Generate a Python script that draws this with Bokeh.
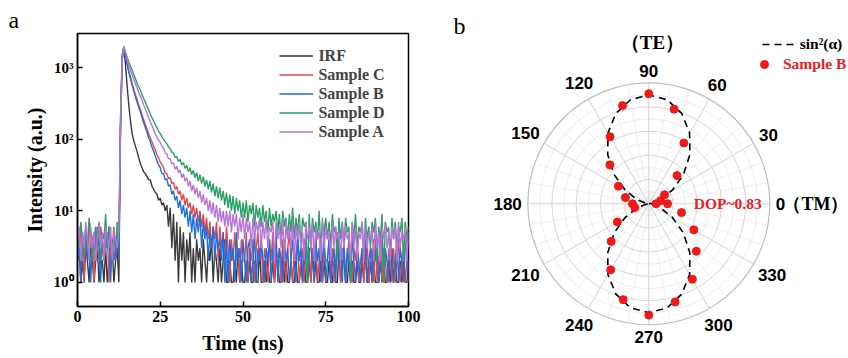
import numpy as np
from bokeh.plotting import figure
from bokeh.layouts import row, column
from bokeh.models import (Legend, LegendItem, FixedTicker, CustomJSTickFormatter,
                          Label, Range1d)
from bokeh.core.properties import value
from bokeh.embed import file_html
from bokeh.resources import INLINE

# ---------------- Panel a : TRPL decay data (counts, 0.5 ns channels) ----------------
t_step_ns = 0.5

irf_counts = [
    2,3,1,2,1,3,2,1,4,2,1,2,3,1,2,2,1,3,1,2,2,3,1,2,3,1,
    200,1500,1950,1100,550,300,180,120,95,80,
    67,55,45,40,35,33,30,27,27,22,
    20,18,17,14,15,12,13,10,12,6,
    11,3,9,2,7,1,6,2,5,1,
    4,2,5,1,3,1,4,2,3,1,
    4,2,1,3,2,4,1,3,2,1,
    3,1,2,4,1,
    1,2,1,1,2,1,3,1,2,1,
    1,2,1,2,1,1,2,1,1,3,
    1,1,2,1,2,1,1,2,1,2,
    2,1,1,3,1,2,1,1,2,1,
    1,2,1,1,2,1,2,1,1,2,
    1,3,1,2,1,1,2,1,2,1,
    1,2,1,1,2,1,1,3,1,2,
    2,1,1,2,1,2,1,1,2,1,
    1,2,1,3,1,1,2,1,2,1,
    1,1,2,1,2,1,1,2,1,3,
    1,2,1,1,2,1,2,1,1,2,
]

sample_c_counts = [
    4,2,6,3,1,5,2,7,3,4,1,5,3,2,6,4,2,3,5,1,4,3,6,2,5,3,
    150,1300,1950,1500,1150,900,740,600,500,420,
    360,300,260,220,185,160,140,120,105,92,
    80,70,60,55,48,44,40,34,33,28,
    29,24,25,20,22,17,19,14,17,12,
    15,11,13,9,12,8,11,7,10,6,
    9,5,8,4,7,3,6,4,7,2,
    6,3,5,2,6,
    3,1,4,2,5,2,3,1,4,2,
    2,5,1,3,2,4,1,3,5,2,
    4,1,3,2,1,4,2,5,1,3,
    2,3,1,4,2,1,3,5,2,1,
    3,2,4,1,2,3,1,4,2,3,
    1,3,2,5,1,2,4,1,3,2,
    2,4,1,3,1,2,5,2,1,3,
    3,1,2,4,2,1,3,2,4,1,
    2,3,1,2,4,1,2,3,1,4,
    1,2,4,1,3,2,1,3,2,1,
    3,1,2,4,1,2,3,1,2,4,
]

sample_b_counts = [
    2,4,1,5,3,6,2,3,1,4,5,2,6,3,1,4,2,5,3,6,1,4,2,3,5,2,
    140,1250,1950,1450,1100,860,700,570,470,390,
    330,280,240,200,170,145,125,105,92,78,
    68,58,50,44,40,33,33,27,28,22,
    23,17,19,14,16,11,14,9,12,8,
    11,6,10,5,9,4,8,5,9,3,
    7,4,6,2,5,3,6,2,5,3,
    4,2,5,1,4,
    1,4,2,3,1,5,2,3,1,4,
    2,1,3,4,1,2,5,1,3,2,
    4,2,1,3,2,4,1,3,2,5,
    1,3,2,1,4,2,3,1,2,4,
    2,1,5,2,3,1,4,2,1,3,
    3,2,1,4,2,3,1,2,5,1,
    2,4,1,2,3,1,4,2,3,1,
    4,1,3,2,1,5,2,1,3,2,
    1,3,2,4,1,2,3,1,4,2,
    3,1,2,5,1,3,2,1,4,2,
    1,2,4,1,3,2,1,3,5,1,
]

sample_d_counts = [
    5,3,7,4,2,6,3,8,5,2,4,6,3,7,2,5,4,9,3,6,4,2,5,3,7,4,
    160,1350,1950,1650,1400,1200,1050,920,800,700,
    610,540,480,420,370,330,290,255,225,200,
    180,160,145,130,120,108,100,92,86,78,
    74,66,64,56,57,49,52,44,47,39,
    43,35,40,32,37,29,34,26,32,24,
    30,22,27,20,26,18,24,16,22,15,
    21,14,19,12,18,
    11,17,10,16,9,15,10,14,8,13,
    8,14,7,12,9,13,6,12,8,11,
    6,12,7,10,5,11,6,9,7,10,
    5,9,4,10,6,8,4,9,5,11,
    4,8,5,9,3,8,6,7,1,9,
    3,8,5,7,4,10,3,7,5,8,
    4,7,3,9,5,6,2,8,4,7,
    3,8,5,6,1,7,4,9,3,6,
    5,7,2,8,4,6,3,7,5,8,
    2,6,4,9,1,7,5,6,2,8,
    4,7,3,6,5,8,2,7,4,6,
]

sample_a_counts = [
    4,6,2,5,3,7,4,2,6,3,5,2,4,7,3,5,2,6,4,3,6,2,5,4,3,6,
    150,1300,1950,1600,1300,1080,920,800,690,600,
    520,455,400,350,300,265,230,200,175,155,
    135,120,105,97,90,80,74,64,62,53,
    54,45,47,38,42,34,37,29,33,26,
    29,22,26,19,23,17,21,15,19,13,
    17,12,15,10,14,9,13,8,12,7,
    11,7,10,6,10,
    6,10,5,9,6,9,4,8,5,9,
    4,8,5,7,3,8,4,7,5,8,
    3,7,4,8,3,6,5,7,2,7,
    4,6,3,8,2,7,4,6,3,7,
    2,6,4,7,3,5,2,7,4,6,
    3,7,2,6,4,5,2,8,3,6,
    4,5,2,7,3,6,4,5,2,7,
    3,6,4,5,2,7,3,6,2,5,
    4,7,2,6,3,5,4,6,2,7,
    3,5,2,6,4,7,3,5,2,6,
    4,6,2,7,3,5,4,6,2,5,
]

series_names = ["IRF", "Sample C", "Sample B", "Sample D", "Sample A"]
series_counts = [irf_counts, sample_c_counts, sample_b_counts, sample_d_counts, sample_a_counts]
series_colors = ["#3a3a3a", "#e8474a", "#1f6fe0", "#2aa063", "#b875d9"]

x_ticks = [0, 25, 50, 75, 100]
y_ticks = [1, 10, 100, 1000]
y_tick_labels = ["10\u2070", "10\u00b9", "10\u00b2", "10\u00b3"]

# ---------------- Panel b : polarization data ----------------
pol_angle_deg = [0, 15, 30, 45, 60, 75, 90, 105, 120, 135, 150, 165, 180,
                 195, 210, 225, 240, 255, 270, 285, 300, 315, 330, 345, 360]
sample_b_r = [0.155, 0.10, 0.15, 0.33, 0.58, 0.81, 0.91, 0.84, 0.64, 0.455, 0.29, 0.20, 0.135,
              0.12, 0.30, 0.44, 0.63, 0.82, 0.92, 0.84, 0.72, 0.555, 0.43, 0.28, 0.06]
fit_angle_deg = [0, 10, 20, 30, 40, 50, 60, 70, 80, 90, 100, 110, 120, 130, 140, 150, 160, 170, 180,
                 190, 200, 210, 220, 230, 240, 250, 260, 270, 280, 290, 300, 310, 320, 330, 340, 350, 360]
fit_r = [0.0, 0.027, 0.105, 0.225, 0.372, 0.528, 0.675, 0.795, 0.873, 0.9,
         0.873, 0.795, 0.675, 0.528, 0.372, 0.225, 0.105, 0.027, 0.0,
         0.027, 0.105, 0.225, 0.372, 0.528, 0.675, 0.795, 0.873, 0.9,
         0.873, 0.795, 0.675, 0.528, 0.372, 0.225, 0.105, 0.027, 0.0]
angle_tick_deg = [0, 30, 60, 90, 120, 150, 180, 210, 240, 270, 300, 330]
ring_major = [0.2, 0.4, 0.6, 0.8]
ring_minor = [0.1, 0.3, 0.5, 0.7, 0.9]
ring_outer = 1.0
spoke_minor_deg = [a for a in range(0, 360, 10) if a % 30 != 0]

SERIF = "Liberation Serif"
SANS = "Liberation Sans"
H = 358

# ================= Panel a =================
p1 = figure(width=428, height=H, y_axis_type="log",
            x_range=Range1d(0, 100), y_range=Range1d(0.46, 3000),
            output_backend="svg", toolbar_location=None,
            min_border_left=77, min_border_right=20, min_border_top=33, min_border_bottom=52)
p1.xgrid.visible = False
p1.ygrid.visible = False
p1.outline_line_color = "black"
p1.outline_line_width = 1.5
p1.outline_line_alpha = 1.0

renderers = []
for name, counts, col in zip(series_names, series_counts, series_colors):
    t = t_step_ns * np.arange(len(counts))
    r = p1.line(t, counts, line_color=col, line_width=1.4)
    renderers.append(r)

p1.xaxis.ticker = FixedTicker(ticks=x_ticks)
p1.yaxis.ticker = FixedTicker(ticks=y_ticks)
lab_map = "{" + ",".join(f"{v}:'{s}'" for v, s in zip(y_ticks, y_tick_labels)) + "}"
p1.yaxis.formatter = CustomJSTickFormatter(code=f"const m={lab_map}; return m[Math.round(tick)] || '';")

for ax in (p1.xaxis[0], p1.yaxis[0]):
    ax.major_tick_in = 5
    ax.major_tick_out = 0
    ax.minor_tick_line_color = None
    ax.axis_line_width = 1.5
    ax.major_tick_line_width = 1.5
    ax.axis_line_color = "black"
    ax.major_tick_line_color = "black"
    ax.major_label_text_font = SERIF
    ax.major_label_text_font_style = "bold"
    ax.major_label_text_color = "black"
    ax.axis_label_text_font = SERIF
    ax.axis_label_text_font_style = "bold"
    ax.axis_label_text_font_size = "20px"
    ax.axis_label_text_color = "black"
p1.xaxis.major_label_text_font_size = "16px"
p1.yaxis.major_label_text_font_size = "15px"
p1.xaxis.major_label_standoff = 4
p1.yaxis.major_label_standoff = 4
p1.xaxis.axis_label = "Time (ns)"
p1.yaxis.axis_label = "Intensity (a.u.)"
p1.xaxis.axis_label_standoff = 7
p1.yaxis.axis_label_standoff = 5

leg1 = Legend(items=[LegendItem(label=n, renderers=[r]) for n, r in zip(series_names, renderers)],
              location=(202.4, 165.2))
leg1.border_line_color = None
leg1.background_fill_alpha = 0
leg1.padding = 4
leg1.margin = 0
leg1.spacing = 1
leg1.label_height = 17
leg1.glyph_height = 17
leg1.glyph_width = 34
leg1.label_standoff = 5
leg1.label_text_font = SERIF
leg1.label_text_font_style = "bold"
leg1.label_text_font_size = "16px"
p1.add_layout(leg1)

p1.title.text = "a"
p1.title.align = "left"
p1.title.offset = -69
p1.title.standoff = 2
p1.title.text_font = SERIF
p1.title.text_font_style = "normal"
p1.title.text_font_size = "24px"
p1.title.text_color = "black"

# ================= Panel b =================
R_PX = 121.0
W2 = 420
CX, CY = 220.3, 203.3   # polar origin inside panel b (pixels from its top-left)
p2 = figure(width=W2, height=H, title=None,
            x_range=Range1d(-CX / R_PX, (W2 - CX) / R_PX),
            y_range=Range1d(-(H - CY) / R_PX, CY / R_PX),
            x_axis_type=None, y_axis_type=None,
            output_backend="svg", toolbar_location=None, min_border=0)
p2.grid.visible = False
p2.outline_line_color = None

def spoke(deg_list, color, width):
    th = np.deg2rad(np.array(deg_list, dtype=float))
    p2.segment(x0=np.zeros_like(th), y0=np.zeros_like(th),
               x1=ring_outer * np.cos(th), y1=ring_outer * np.sin(th),
               line_color=color, line_width=width)

spoke(spoke_minor_deg, "#ececec", 0.8)
p2.circle(x=[0] * len(ring_minor), y=[0] * len(ring_minor), radius=ring_minor,
          fill_color=None, line_color="#e8e8e8", line_width=0.8)
spoke(angle_tick_deg, "#d2d2d2", 1.0)
p2.circle(x=[0] * len(ring_major), y=[0] * len(ring_major), radius=ring_major,
          fill_color=None, line_color="#d6d6d6", line_width=1.0)
p2.circle(x=[0], y=[0], radius=[ring_outer], fill_color=None, line_color="#bdbdbd", line_width=1.2)

th_fit = np.deg2rad(np.array(fit_angle_deg, dtype=float))
fr = np.array(fit_r)
r_fit = p2.line(fr * np.cos(th_fit), fr * np.sin(th_fit), line_color="black",
                line_width=1.6, line_dash="7 5")
th_pts = np.deg2rad(np.array(pol_angle_deg, dtype=float))
br = np.array(sample_b_r)
r_pts = p2.scatter(br * np.cos(th_pts), br * np.sin(th_pts), size=8,
                   fill_color="#f01818", line_color="#f01818")

lab_fs = 17
lab_x, lab_y, lab_t = [], [], []
for a in angle_tick_deg:
    s = str(a)
    th = np.deg2rad(a)
    hw = 0.278 * lab_fs * len(s)
    hh = 0.36 * lab_fs
    rr = ring_outer + (6 + hw * abs(np.cos(th)) + hh * abs(np.sin(th))) / R_PX
    lab_x.append(rr * np.cos(th))
    lab_y.append(rr * np.sin(th))
    lab_t.append(s)
p2.text(x=lab_x, y=lab_y, text=lab_t, text_font=value(SANS), text_font_style="bold",
        text_font_size=f"{lab_fs}px", text_align="center", text_baseline="middle",
        text_color="black")

p2.add_layout(Label(x=0.03, y=1.329, text="（TE）", text_font=SERIF, text_font_style="bold",
                    text_font_size="19px", text_align="center", text_baseline="middle",
                    text_color="black"))
p2.add_layout(Label(x=1.113, y=0.0, text="（TM）", text_font=SERIF, text_font_style="bold",
                    text_font_size="18px", text_align="left", text_baseline="middle",
                    text_color="black"))
p2.add_layout(Label(x=0.372, y=0.0, text="DOP~0.83", text_font=SERIF, text_font_style="bold",
                    text_font_size="15.5px", text_align="left", text_baseline="middle",
                    text_color="#ee1c25"))

leg2 = Legend(items=[LegendItem(label="sin\u00b2(\u03b1)", renderers=[r_fit])], location=(333.7, 305))
leg3 = Legend(items=[LegendItem(label="Sample B", renderers=[r_pts])], location=(326, 284))
for lg, col, gw, gh, so in ((leg2, "black", 36, 16, 2), (leg3, "#ee1c25", 20, 20, 9)):
    lg.border_line_color = None
    lg.background_fill_alpha = 0
    lg.padding = 0
    lg.margin = 0
    lg.label_height = gh
    lg.glyph_height = gh
    lg.glyph_width = gw
    lg.label_standoff = so
    lg.label_text_font = SERIF
    lg.label_text_font_style = "bold"
    lg.label_text_font_size = "15.5px"
    lg.label_text_color = col
    p2.add_layout(lg)

p2.add_layout(Label(x=25, y=H - 25, x_units="screen", y_units="screen", text="b",
                    text_font=SERIF, text_font_size="24px", text_baseline="alphabetic",
                    text_color="black"))

layout = row(p1, column(p2))
open("out.html", "w").write(file_html(layout, INLINE))
